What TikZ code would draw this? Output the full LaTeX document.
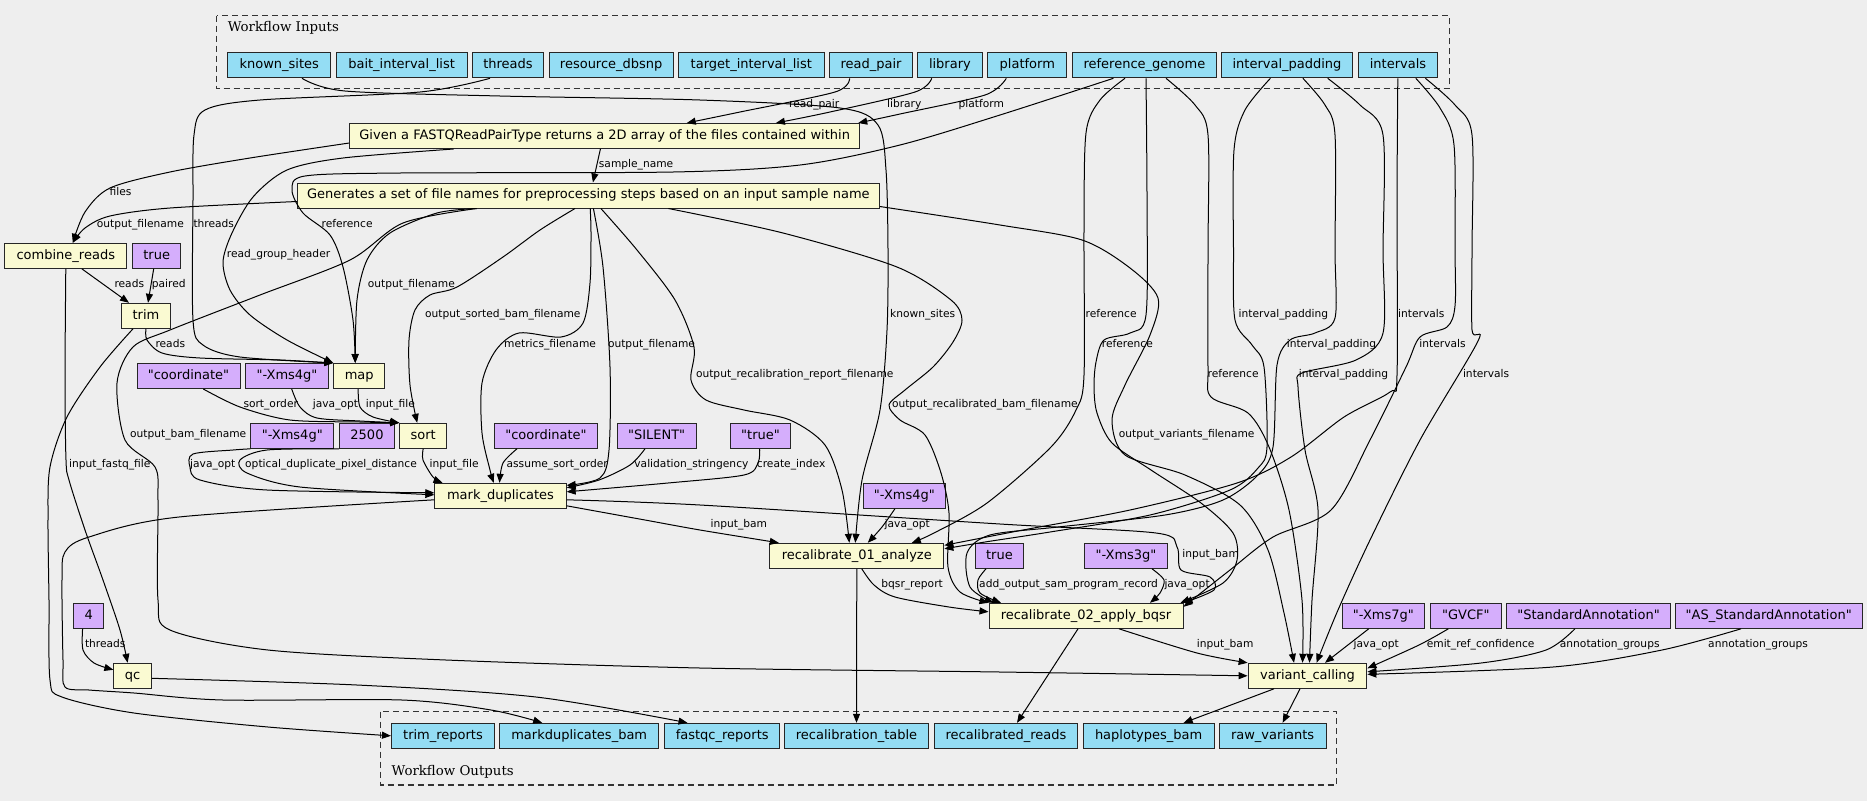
\documentclass[tikz,border=0pt]{standalone}
\usepackage{fontspec}
\setmainfont{DejaVu Sans}[Ligatures=TeXOff]
\newfontfamily\ttlfont{DejaVu Serif}[Ligatures=TeXOff]
\usetikzlibrary{arrows.meta}
\definecolor{bgc}{HTML}{EEEEEE}
\definecolor{cblue}{HTML}{94DDF4}
\definecolor{cyel}{HTML}{FAFAD2}
\definecolor{cpur}{HTML}{D5AEFC}
\tikzset{
 nbox/.style={draw=black!85, line width=1pt, rectangle, minimum height=25pt, inner sep=0pt,
   font=\fontsize{13}{16}\selectfont, text height=9.6pt, text depth=3pt},
 inp/.style={nbox, fill=cblue, minimum width=#1},
 stp/.style={nbox, fill=cyel, minimum width=#1},
 cst/.style={nbox, fill=cpur, minimum width=#1},
 lbl/.style={anchor=west, inner sep=0pt, font=\fontsize{10.67}{12}\selectfont, text height=8pt, text depth=2.5pt},
 ttl/.style={anchor=west, inner sep=0pt, font=\ttlfont\fontsize{13.33}{16}\selectfont},
 conn/.style={line width=1pt, -{Triangle[length=9pt,width=7pt]}},
 clus/.style={dash pattern=on 6pt off 4pt, line width=1.1pt, draw=black!80}
}
\begin{document}
\begin{tikzpicture}[x=1pt,y=-1pt]
\fill[bgc] (0,0) rectangle (1867,801);
\useasboundingbox (0,0) rectangle (1867,801);

% clusters
\draw[clus] (216.5,15.7) rectangle (1449.1,88.7);
\node[ttl] (tin) at (227.7,28) {Workflow Inputs};
\draw[clus] (380.8,711.7) rectangle (1336.4,785);
\node[ttl] (tout) at (391.5,772) {Workflow Outputs};

% inputs
\node[inp=103] (in_known) at (279.2,65.3) {known\_sites};
\node[inp=130.8] (in_bait) at (401.6,65.3) {bait\_interval\_list};
\node[inp=71.4] (in_threads) at (508,65.3) {threads};
\node[inp=124] (in_dbsnp) at (611.2,65.3) {resource\_dbsnp};
\node[inp=145.5] (in_target) at (751.3,65.3) {target\_interval\_list};
\node[inp=83] (in_readpair) at (871,65.3) {read\_pair};
\node[inp=64.7] (in_library) at (949.9,65.3) {library};
\node[inp=78.9] (in_platform) at (1027.3,65.3) {platform};
\node[inp=144.7] (in_ref) at (1144.4,65.3) {reference\_genome};
\node[inp=131.2] (in_pad) at (1287,65.3) {interval\_padding};
\node[inp=79.2] (in_intervals) at (1398,65.3) {intervals};

% steps and constants
\node[stp=510] (fastq) at (604.7,136) {Given a FASTQReadPairType returns a 2D array of the files contained within};
\node[stp=582] (gen) at (588.4,195.5) {Generates a set of file names for preprocessing steps based on an input sample name};
\node[stp=121.7] (combine) at (65.8,255.8) {combine\_reads};
\node[cst=48] (true1) at (156.7,255.8) {true};
\node[stp=49.3] (trim) at (146,315.8) {trim};
\node[cst=103] (coord1) at (188.5,376) {"coordinate"};
\node[cst=82.7] (xms4ga) at (287,376) {"-Xms4g"};
\node[stp=51] (map) at (359.2,376) {map};
\node[cst=82.7] (xms4gb) at (292.3,435.8) {"-Xms4g"};
\node[cst=54.7] (c2500) at (367,435.8) {2500};
\node[stp=47] (sort) at (423.2,435.8) {sort};
\node[cst=103] (coord2) at (546,435.8) {"coordinate"};
\node[cst=79.2] (silent) at (656.6,435.8) {"SILENT"};
\node[cst=60.4] (trueq) at (760.5,435.8) {"true"};
\node[stp=131.3] (md) at (500.5,495.8) {mark\_duplicates};
\node[cst=82.7] (xms4gc) at (904.4,495.8) {"-Xms4g"};
\node[stp=174.1] (recal01) at (856.8,555.8) {recalibrate\_01\_analyze};
\node[cst=48.1] (true2) at (999.4,555.8) {true};
\node[cst=82.5] (xms3g) at (1126,555.8) {"-Xms3g"};
\node[stp=194] (recal02) at (1086,615.8) {recalibrate\_02\_apply\_bqsr};
\node[cst=30.3] (c4) at (88.8,615.8) {4};
\node[cst=82.8] (xms7g) at (1383.4,615.8) {"-Xms7g"};
\node[cst=71.2] (gvcf) at (1465.8,615.8) {"GVCF"};
\node[cst=163.1] (stdann) at (1588.5,615.8) {"StandardAnnotation"};
\node[cst=187.4] (asann) at (1768.7,615.8) {"AS\_StandardAnnotation"};
\node[stp=37.5] (qc) at (132.6,675.8) {qc};
\node[stp=118.8] (vc) at (1307.5,675.8) {variant\_calling};

% outputs
\node[inp=103.1] (out_trim) at (443,735.8) {trim\_reports};
\node[inp=158.5] (out_mdbam) at (579.2,735.8) {markduplicates\_bam};
\node[inp=115] (out_fastqc) at (722.2,735.8) {fastqc\_reports};
\node[inp=143.8] (out_rtable) at (856.5,735.8) {recalibration\_table};
\node[inp=142.6] (out_rreads) at (1006,735.8) {recalibrated\_reads};
\node[inp=131] (out_hbam) at (1148.6,735.8) {haplotypes\_bam};
\node[inp=107] (out_raw) at (1272.6,735.8) {raw\_variants};

% edge labels
\node[lbl] (l01) at (789,105) {read\_pair};
\node[lbl] (l02) at (886.9,105) {library};
\node[lbl] (l03) at (958.5,105) {platform};
\node[lbl] (l04) at (598.7,165) {sample\_name};
\node[lbl] (l05) at (109.5,193) {files};
\node[lbl] (l06) at (96.7,225) {output\_filename};
\node[lbl] (l07) at (193.3,225) {threads};
\node[lbl] (l08) at (321.5,225) {reference};
\node[lbl] (l09) at (226.7,255) {read\_group\_header};
\node[lbl] (l10) at (114.3,285) {reads};
\node[lbl] (l11) at (151.7,285) {paired};
\node[lbl] (l12) at (367.7,285) {output\_filename};
\node[lbl] (l13) at (424.9,315) {output\_sorted\_bam\_filename};
\node[lbl] (l14) at (155.3,345) {reads};
\node[lbl] (l15) at (504,345) {metrics\_filename};
\node[lbl] (l16) at (607.8,345) {output\_filename};
\node[lbl] (l17) at (889.9,315) {known\_sites};
\node[lbl] (l18) at (695.8,375) {output\_recalibration\_report\_filename};
\node[lbl] (l19) at (891.8,405) {output\_recalibrated\_bam\_filename};
\node[lbl] (l20) at (1085.5,315) {reference};
\node[lbl] (l21) at (1101.7,345) {reference};
\node[lbl] (l22) at (1207.4,375) {reference};
\node[lbl] (l23) at (1238.5,315) {interval\_padding};
\node[lbl] (l24) at (1286.6,345) {interval\_padding};
\node[lbl] (l25) at (1298.6,375) {interval\_padding};
\node[lbl] (l26) at (1398,315) {intervals};
\node[lbl] (l27) at (1419.2,345) {intervals};
\node[lbl] (l28) at (1462.8,375) {intervals};
\node[lbl] (l29) at (1118.7,435) {output\_variants\_filename};
\node[lbl] (l30) at (243.3,405) {sort\_order};
\node[lbl] (l31) at (312.7,405) {java\_opt};
\node[lbl] (l32) at (365.7,405) {input\_file};
\node[lbl] (l33) at (130,435) {output\_bam\_filename};
\node[lbl] (l34) at (69,465) {input\_fastq\_file};
\node[lbl] (l35) at (190,465) {java\_opt};
\node[lbl] (l36) at (245,465) {optical\_duplicate\_pixel\_distance};
\node[lbl] (l37) at (429.5,465) {input\_file};
\node[lbl] (l38) at (506.4,465) {assume\_sort\_order};
\node[lbl] (l39) at (634.2,465) {validation\_stringency};
\node[lbl] (l40) at (756.7,465) {create\_index};
\node[lbl] (l41) at (710.4,525) {input\_bam};
\node[lbl] (l42) at (884.5,525) {java\_opt};
\node[lbl] (l43) at (1182.2,555) {input\_bam};
\node[lbl] (l44) at (881.2,585) {bqsr\_report};
\node[lbl] (l45) at (979,585) {add\_output\_sam\_program\_record};
\node[lbl] (l46) at (1164.3,585) {java\_opt};
\node[lbl] (l47) at (84.8,644.3) {threads};
\node[lbl] (l48) at (1196.7,645) {input\_bam};
\node[lbl] (l49) at (1353.5,645) {java\_opt};
\node[lbl] (l50) at (1426.6,645) {emit\_ref\_confidence};
\node[lbl] (l51) at (1559.7,645) {annotation\_groups};
\node[lbl] (l52) at (1708,645) {annotation\_groups};

% ---------- edges ----------
% FASTQ inputs
\draw[conn] plot[smooth] coordinates {([xshift=-21.4]in_readpair.south) (835,92) (740,112) ([xshift=82]fastq.north)};
\draw[conn] plot[smooth] coordinates {([xshift=-18.2]in_library.south) (915,92) (830,112) ([xshift=171.2]fastq.north)};
\draw[conn] plot[smooth] coordinates {([xshift=-21]in_platform.south) (985,95) (900,114) ([xshift=-2]fastq.north east)};
\draw[conn] ([xshift=-4.3]fastq.south) -- ([xshift=4.5]gen.north);

% to combine_reads
\draw[conn] plot[smooth] coordinates {([yshift=-7]fastq.west) (250,158) (170,172) (110,188) (85,212) ([xshift=7]combine.north)};
\draw[conn] plot[smooth] coordinates {([yshift=-6]gen.west) (170,208) (110,216) (85,228) ([xshift=7]combine.north)};

% trim
\draw[conn] ([xshift=16]combine.south) -- ([xshift=-17]trim.north);
\draw[conn] ([xshift=-3]true1.south) -- ([xshift=2]trim.north);

% map inputs
\draw[conn] plot[smooth] coordinates {(trim.south) (147,340) (162,353) (200,358) (280,360) (map.north west)};
\draw[conn] plot[smooth] coordinates {([xshift=-18]in_threads.south) (420,92) (260,100) (205,110) (194,135) (193,200) (193,320) (203,345) (240,357) (map.north west)};
\draw[conn] plot[smooth] coordinates {([xshift=-151]fastq.south) (343,158) (287,170) (253,197) (232,233) (223,262) (230,290) (250,315) (287,340) (map.north west)};
\draw[conn] plot[smooth] coordinates {([xshift=-31]in_ref.south) (1000,115) (900,145) (800,165) (673,172) (400,173) (305,176) (292,190) (303,213) (330,235) (343,267) (353,320) ([xshift=-4]map.north)};
\draw[conn] plot[smooth] coordinates {([xshift=-112]gen.south) (437,213) (390,233) (367,260) (357,300) ([xshift=-4]map.north)};

% sort inputs
\draw[conn] plot[smooth] coordinates {([xshift=-13.4]gen.south) (540,230) (503,257) (457,287) (430,295) (415,310) (409,340) (410,385) ([xshift=-6]sort.north)};
\draw[conn] plot[smooth] coordinates {([xshift=14.8]coord1.south) (240,407) (290,420) (360,422) (sort.north west)};
\draw[conn] plot[smooth] coordinates {([xshift=4.7]xms4ga.south) (300,407) (317,418) (360,421) (sort.north west)};
\draw[conn] plot[smooth] coordinates {([xshift=-1]map.south) (360,407) (373,417) (sort.north west)};

% mark_duplicates inputs
\draw[conn] plot[smooth] coordinates {(sort.south) (423,460) (433,477) ([xshift=-58]md.north)};
\draw[conn] plot[smooth] coordinates {(xms4gb.south west) (233,450) (193,454) (190,467) (200,480) (267,490) ([yshift=3]md.west)};
\draw[conn] plot[smooth] coordinates {(c2500.south west) (267,450) (240,460) (247,473) (300,487) ([yshift=1]md.west)};
\draw[conn] plot[smooth] coordinates {([xshift=1.8]gen.south) (591,233) (590,283) (583,323) (561,337) (519,333) (496,350) (482,383) (482,433) (490,470) ([xshift=-6.7]md.north)};
\draw[conn] plot[smooth] coordinates {([xshift=-29]coord2.south) (503,463) ([xshift=-1]md.north)};
\draw[conn] plot[smooth] coordinates {([xshift=5]gen.south) (603,267) (610,367) (609,450) (600,478) ([yshift=-2.5]md.north east)};
\draw[conn] plot[smooth] coordinates {([xshift=-11.6]silent.south) (630,465) (599,480) ([yshift=-5]md.north east)};
\draw[conn] plot[smooth] coordinates {([xshift=-0.8]trueq.south) (758,463) (744,475) (668,483) ([yshift=4]md.east)};

% recalibrate_01 inputs
\draw[conn] plot[smooth] coordinates {([yshift=-10]md.east) (645,520) (700,530) ([xshift=-78]recal01.north)};
\draw[conn] plot[smooth] coordinates {([xshift=12.5]gen.south) (637,250) (675,300) (694,347) (691,380) (706,400) (744,410) (790,420) (825,445) (842,490) ([xshift=-7.5]recal01.north)};
\draw[conn] plot[smooth] coordinates {([xshift=22.8]in_known.south) (345,91) (500,96) (700,100) (840,108) (878,125) (886,170) (888,250) (887,330) (880,410) (862,480) ([xshift=-1.5]recal01.north)};
\draw[conn] plot[smooth] coordinates {([xshift=-9.5]xms4gc.south) (882,527) ([xshift=11]recal01.north)};
\draw[conn] plot[smooth] coordinates {([xshift=-19.4]in_ref.south) (1100,100) (1086,133) (1084,230) (1084,375) (1076,410) (1051,447) (987,503) (934,533) ([xshift=55]recal01.north)};
\draw[conn] plot[smooth] coordinates {([xshift=-0.2]in_intervals.south) (1397,200) (1397,375) (1390,392) (1344,417) (1291,457) (1237,483) (1130,510) (1023,530) ([yshift=-2.5]recal01.north east)};
\draw[conn] plot[smooth] coordinates {([xshift=-16.6]in_pad.south) (1245,110) (1234,150) (1233.5,250) (1235,320) (1252,345) (1264,367) (1267,447) (1258,468) (1230,490) (1150,515) (1050,532) (985,542) ([yshift=-6]recal01.north east)};

% recalibrate_02 inputs
\draw[conn] plot[smooth] coordinates {([xshift=5]recal01.south) (874,585) (895,597) (949,607) ([yshift=4]recal02.west)};
\draw[conn] plot[smooth] coordinates {([xshift=-13.4]true2.south) (978,580) (980,593) ([xshift=-85]recal02.north)};
\draw[conn] plot[smooth] coordinates {([xshift=26]xms3g.south) (1164,580) (1160,593) ([xshift=64]recal02.north)};
\draw[conn] plot[smooth] coordinates {([yshift=-4]md.east) (700,505) (1000,524) (1156,533) (1177,547) (1181,570) (1210,577) (1214,590) (recal02.north east)};
\draw[conn] plot[smooth] coordinates {([xshift=80]gen.south) (783,233) (897,267) (951,300) (962,320) (953,342) (933,367) (905,390) (889,405) (900,420) (925,435) (941,473) (949,513) (948,567) (960,592) (recal02.north west)};
\draw[conn] plot[smooth] coordinates {([xshift=1.6]in_ref.south) (1147,200) (1146,315) (1130,333) (1104,340) (1096,362) (1094,387) (1097,413) (1112,443) (1151,470) (1201,503) (1233,533) (1237,560) (1223,583) ([xshift=-3]recal02.north east)};
\draw[conn] plot[smooth] coordinates {([xshift=15.9]in_pad.south) (1325,105) (1335,135) (1335,250) (1335,318) (1315,333) (1290,340) (1277,365) (1273,447) (1258,475) (1223,500) (1165,515) (1058,527) (990,535) (967,553) (970,587) ([xshift=5]recal02.north west)};
\draw[conn] plot[smooth] coordinates {([xshift=17.8]in_intervals.south) (1440,108) (1454,145) (1455,250) (1455,306) (1447,327) (1420,337) (1406,367) (1370,440) (1331,510) (1273,537) (1230,570) ([yshift=-4]recal02.north east)};

% variant_calling inputs
\draw[conn] plot[smooth] coordinates {([xshift=33]recal02.south) (1197,653) (vc.north west)};
\draw[conn] plot[smooth] coordinates {([yshift=-11]gen.east) (1000,225) (1082,240) (1130,268) (1158,298) (1150,335) (1125,385) (1112,420) (1125,455) (1185,475) (1240,505) (1268,550) (1284,613) ([xshift=-13.5]vc.north)};
\draw[conn] plot[smooth] coordinates {([xshift=-111.7]gen.south) (403,223) (350,260) (260,295) (170,330) (133,347) (117,383) (125,440) (155,467) (158,500) (158,600) (170,630) (268,650) (446,660) (700,668) (1000,672) (vc.west)};
\draw[conn] plot[smooth] coordinates {([xshift=21.6]in_ref.south) (1195,105) (1208,135) (1208,250) (1208,367) (1211,397) (1248,413) (1269,447) (1289,510) (1302,600) ([xshift=-5]vc.north)};
\draw[conn] plot[smooth] coordinates {([xshift=40.7]in_pad.south) (1360,105) (1383,135) (1383,250) (1383,333) (1356,360) (1302,373) (1298,387) (1305,450) (1318,510) (1312,600) ([xshift=2]vc.north)};
\draw[conn] plot[smooth] coordinates {([xshift=27.4]in_intervals.south) (1455,105) (1472,135) (1472,250) (1472,330) (1478,341) (1420,440) (1370,540) (1338,610) ([xshift=9]vc.north)};
\draw[conn] ([xshift=-14.7]xms7g.south) -- ([xshift=17.5]vc.north);
\draw[conn] plot[smooth] coordinates {([xshift=-17.5]gvcf.south) (1419,645) ([yshift=7.5]vc.east)};
\draw[conn] plot[smooth] coordinates {([xshift=-13.6]stdann.south) (1546,650) (1481,663) ([yshift=4]vc.east)};
\draw[conn] plot[smooth] coordinates {([xshift=-27.7]asann.south) (1662,650) (1553,667) ([yshift=1.5]vc.east)};

% qc
\draw[conn] plot[smooth] coordinates {(combine.south) (65,380) (66,460) (69,480) (85,530) (103,580) (120,630) ([xshift=-5]qc.north)};
\draw[conn] plot[smooth] coordinates {([xshift=-6.2]c4.south) (83,650) (94,663) ([yshift=6]qc.west)};

% to outputs
\draw[conn] plot[smooth] coordinates {([xshift=-13]trim.south) (100,367) (67,417) (50,467) (48,520) (49,600) (50,680) (62,697) (134,713) (268,727) (out_trim.west)};
\draw[conn] plot[smooth] coordinates {([yshift=-4]md.west) (179,517) (89,537) (65,552) (62,580) (63,660) (65,687) (89,690) (134,693) (223,700) (402,700) (491,710) ([xshift=-37]out_mdbam.north)};
\draw[conn] plot[smooth] coordinates {([yshift=-2.5]qc.east) (357,685) (536,697) ([xshift=-34.7]out_fastqc.north)};
\draw[conn] (recal01.south) -- (out_rtable.north);
\draw[conn] ([xshift=-8]recal02.south) -- ([xshift=11]out_rreads.north);
\draw[conn] ([xshift=-33.5]vc.south) -- ([xshift=35]out_hbam.north);
\draw[conn] ([xshift=-7.5]vc.south) -- ([xshift=10]out_raw.north);
\end{tikzpicture}
\end{document}
